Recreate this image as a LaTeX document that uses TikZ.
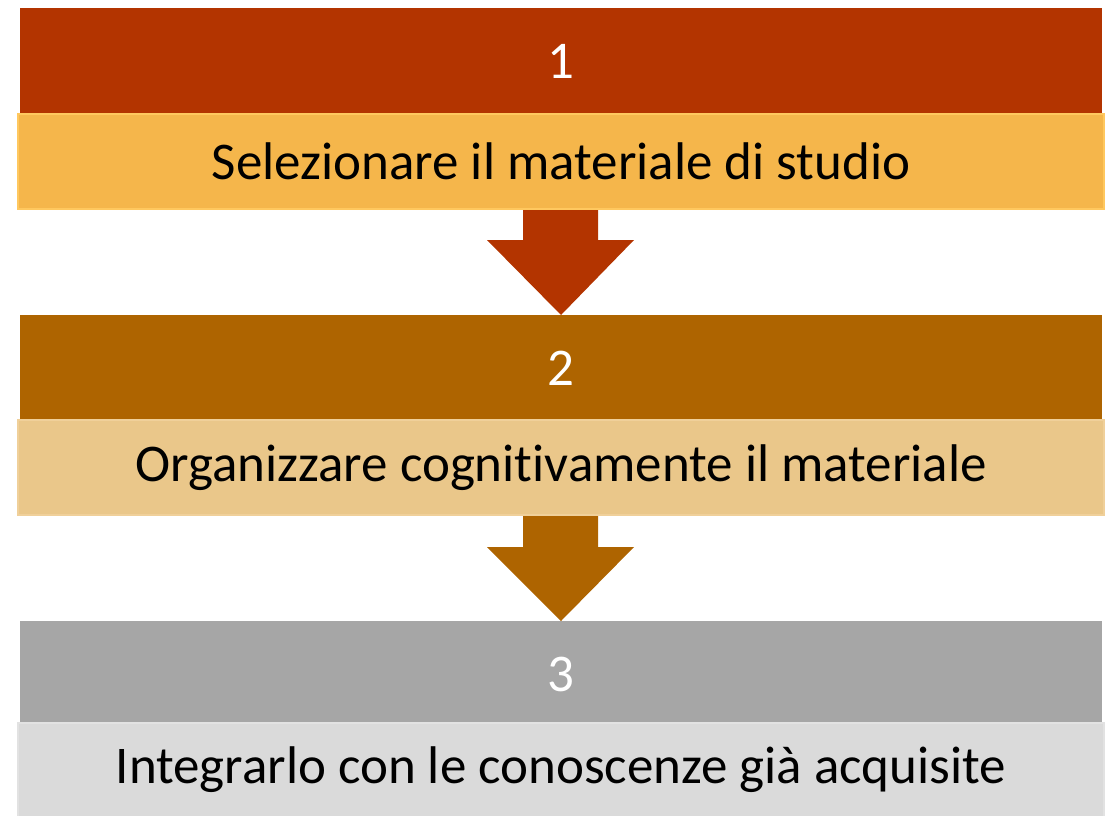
\documentclass[tikz,border=0pt]{standalone}
\usepackage{fontspec}
\setmainfont{Carlito}[Ligatures=NoCommon]
\definecolor{cA}{HTML}{B33400}
\definecolor{cAl}{HTML}{F5B64B}
\definecolor{cAb}{HTML}{FFC85F}
\definecolor{cB}{HTML}{AE6400}
\definecolor{cBl}{HTML}{EAC78A}
\definecolor{cBb}{HTML}{F0D09A}
\definecolor{cC}{HTML}{A6A6A6}
\definecolor{cCl}{HTML}{DADADA}
\definecolor{cCb}{HTML}{E2E2E2}
\begin{document}
\begin{tikzpicture}[x=1pt,y=-1pt,
  headbox/.style={anchor=north west,inner sep=0pt,outer sep=0pt,text=white,font=\fontsize{53}{60}\selectfont,minimum width=1082pt,minimum height=106pt},
  bodybox/.style={anchor=north west,inner sep=0pt,outer sep=0pt,text=black,font=\fontsize{53}{60}\selectfont,minimum width=1086pt,minimum height=95pt,line width=2pt}]
\useasboundingbox (0,0) rectangle (1109,815);
% stage 1
\node[headbox,fill=cA] (h1) at (20,8) {1};
\node[bodybox,fill=cAl,draw=cAb] (b1) at (18,114) {Selezionare il materiale di studio};
% stage 2
\node[headbox,fill=cB] (h2) at (20,315) {2};
\node[bodybox,fill=cBl,draw=cBb] (b2) at (18,420) {Organizzare cognitivamente il materiale};
% stage 3
\node[headbox,fill=cC] (h3) at (20,621) {3};
\node[bodybox,fill=cCl,draw=cCb,minimum height=94pt] (b3) at (18,723) {Integrarlo con le conoscenze già acquisite};
% arrows
\fill[cA] ([xshift=-38pt,yshift=-1pt]b1.south) -- ([xshift=37pt,yshift=-1pt]b1.south) -- ([xshift=37pt,yshift=-31pt]b1.south) -- ([xshift=73pt,yshift=-31pt]b1.south) -- (h2.north) -- ([xshift=-74pt,yshift=-31pt]b1.south) -- ([xshift=-38pt,yshift=-31pt]b1.south) -- cycle;
\fill[cB] ([xshift=-38pt,yshift=-1pt]b2.south) -- ([xshift=37pt,yshift=-1pt]b2.south) -- ([xshift=37pt,yshift=-32pt]b2.south) -- ([xshift=73pt,yshift=-32pt]b2.south) -- (h3.north) -- ([xshift=-74pt,yshift=-32pt]b2.south) -- ([xshift=-38pt,yshift=-32pt]b2.south) -- cycle;
\end{tikzpicture}
\end{document}
